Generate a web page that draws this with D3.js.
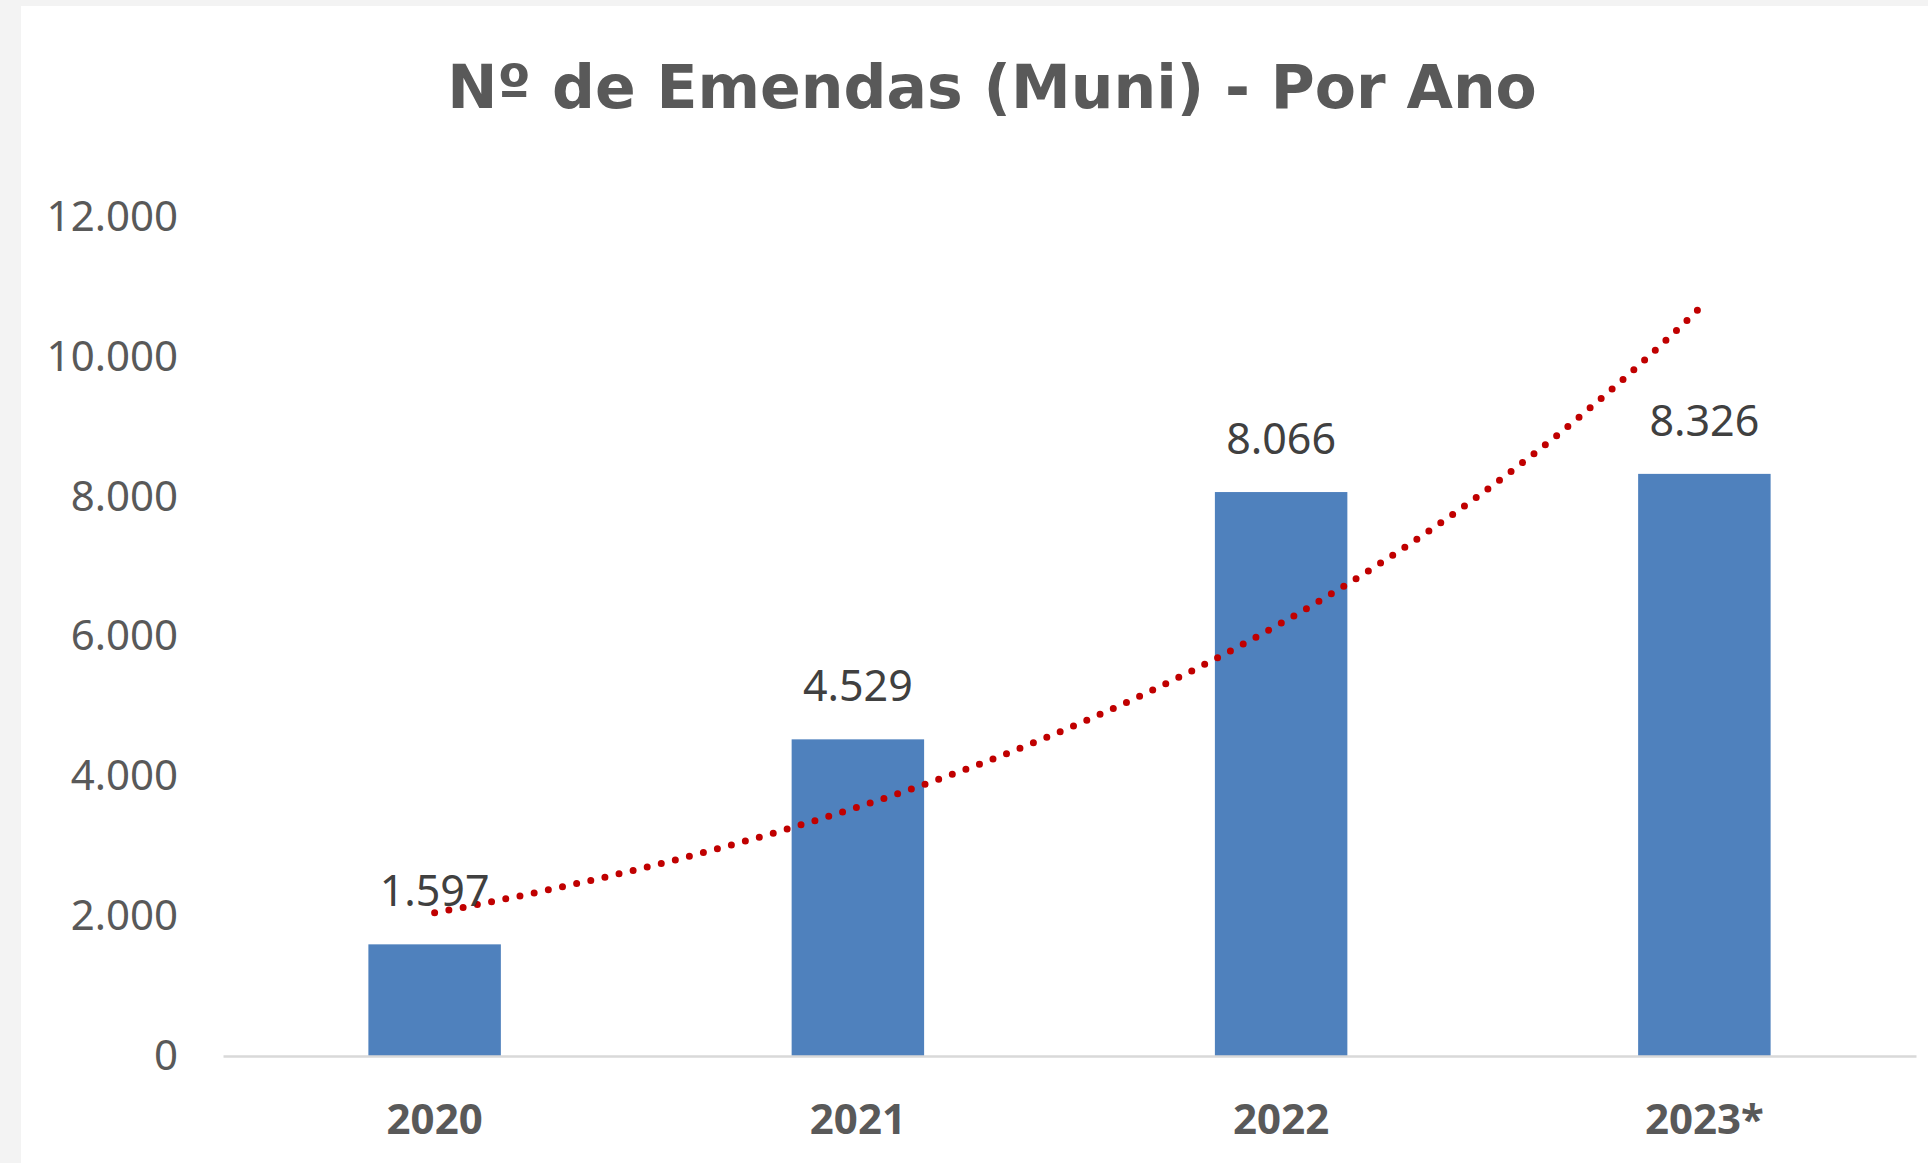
<!DOCTYPE html>
<html>
<head>
<meta charset="utf-8">
<script src="https://cdn.jsdelivr.net/npm/d3@7"></script>
<style>
    html, body { margin: 0; padding: 0; background: #f3f3f3; }
    svg { display: block; }
</style>
</head>
<body>
<svg id="chart"></svg>
<script>
// Nº de Emendas (Muni) - bars per year with exponential trendline

const years = ["2020", "2021", "2022", "2023*"];
const emendas = [1597, 4529, 8066, 8326];
const yTicks = [0, 2000, 4000, 6000, 8000, 10000, 12000];

const width = 1928;
const height = 1163;
const margin = { top: 217, right: 12, bottom: 107, left: 223 };

const svg = d3.select("#chart")
    .attr("width", width)
    .attr("height", height);

// white chart panel over grey page
svg.append("rect")
    .attr("x", 21)
    .attr("y", 6)
    .attr("width", width - 21)
    .attr("height", height - 6)
    .attr("fill", "#ffffff");

const x = d3.scaleBand()
    .domain(years)
    .range([margin.left, width - margin.right])
    .paddingInner(0.687)
    .paddingOuter(0.3435);

const y = d3.scaleLinear()
    .domain([0, 12000])
    .range([height - margin.bottom, margin.top]);

const fmt = d3.formatLocale({ decimal: ",", thousands: ".", grouping: [3], currency: ["R$", ""] }).format(",d");

// title
svg.append("text")
    .attr("x", 992)
    .attr("y", 108)
    .attr("text-anchor", "middle")
    .style("font-family", "DejaVu Sans")
    .style("font-weight", "bold")
    .style("font-size", "60px")
    .style("fill", "#595959")
    .text("Nº de Emendas (Muni) - Por Ano");

// y axis labels (no line, no ticks)
const yAxis = svg.append("g")
    .attr("transform", `translate(${margin.left - 45},0)`)
    .call(d3.axisLeft(y).tickValues(yTicks).tickSize(0).tickPadding(0).tickFormat(fmt));
yAxis.select(".domain").remove();
yAxis.selectAll("text")
    .style("font-family", "Noto Sans")
    .style("font-size", "42px")
    .style("fill", "#595959");

// bars
svg.append("g")
    .selectAll("rect")
    .data(emendas)
    .join("rect")
    .attr("x", (d, i) => x(years[i]))
    .attr("y", d => y(d))
    .attr("width", x.bandwidth())
    .attr("height", d => y(0) - y(d))
    .attr("fill", "#4f81bd");

// x axis line + labels
const xAxis = svg.append("g")
    .attr("transform", `translate(0,${y(0)})`)
    .call(d3.axisBottom(x).tickSize(0).tickPadding(48));
xAxis.select(".domain")
    .attr("stroke", "#d9d9d9")
    .attr("stroke-width", 2.5);
xAxis.selectAll("text")
    .style("font-family", "Noto Sans")
    .style("font-weight", "bold")
    .style("font-size", "42px")
    .style("fill", "#595959");

// exponential trendline fitted on the bar values (like Excel)
const xs = emendas.map((d, i) => i + 1);
const lns = emendas.map(d => Math.log(d));
const mx = d3.mean(xs), ml = d3.mean(lns);
const b = d3.sum(xs, (v, i) => (v - mx) * (lns[i] - ml)) / d3.sum(xs, v => (v - mx) * (v - mx));
const a = Math.exp(ml - b * mx);

const step = x.step();
const xc = t => x(years[0]) + x.bandwidth() / 2 + (t - 1) * step;
const trendPts = d3.range(1, 4.0001, 0.05).map(t => [xc(t), y(a * Math.exp(b * t))]);

svg.append("path")
    .datum(trendPts)
    .attr("d", d3.line())
    .attr("fill", "none")
    .attr("stroke", "#c00000")
    .attr("stroke-width", 7)
    .attr("stroke-linecap", "round")
    .attr("stroke-dasharray", "0 14.5");

// data labels
svg.append("g")
    .selectAll("text")
    .data(emendas)
    .join("text")
    .attr("x", (d, i) => x(years[i]) + x.bandwidth() / 2)
    .attr("y", d => y(d) - 38)
    .attr("text-anchor", "middle")
    .style("font-family", "Noto Sans")
    .style("font-size", "43px")
    .style("fill", "#404040")
    .text(d => fmt(d));
</script>
</body>
</html>
